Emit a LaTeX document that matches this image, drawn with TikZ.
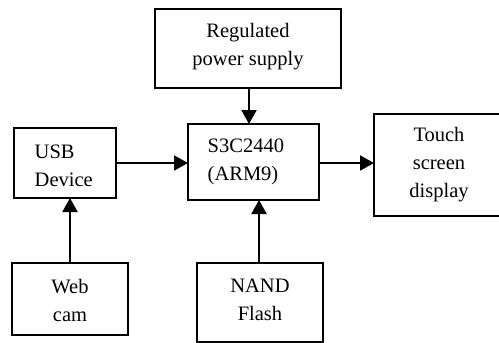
\documentclass[tikz,border=0pt]{standalone}
\usepackage{fontspec}
\setmainfont{Liberation Serif}
\usetikzlibrary{arrows.meta}
\begin{document}
\begin{tikzpicture}[x=1pt,y=-1pt,
  blk/.style={draw=black,line width=1.5pt,inner sep=0pt,outer sep=0pt},
  txt/.style={inner sep=0pt,font=\fontsize{20.5}{28}\selectfont},
  conn/.style={line width=2pt,-{Triangle[length=14pt,width=15pt]}}]
\useasboundingbox (0,0) rectangle (499,343);
% boxes
\node[blk,minimum width=186pt,minimum height=79pt] (reg) at (248,48.5) {};
\node[blk,minimum width=131pt,minimum height=76pt] (cpu) at (253.5,162) {};
\node[blk,minimum width=102pt,minimum height=70pt] (usb) at (65,163) {};
\node[blk,minimum width=127pt,minimum height=102pt] (touch) at (437.5,165) {};
\node[blk,minimum width=116pt,minimum height=72pt] (web) at (70,299) {};
\node[blk,minimum width=126pt,minimum height=79pt] (nand) at (260,302.5) {};
% texts
\node[txt,align=center] (regt) at (248,47) {Regulated\\power supply};
\node[txt,align=left,anchor=west] (cput) at (207.5,161.5) {S3C2440\\(ARM9)};
\node[txt,align=left,anchor=west] (usbt) at (34.5,166) {USB\\Device};
\node[txt,align=center] (toucht) at (439,165) {Touch\\screen\\display};
\node[txt,align=center] (webt) at (70,300) {Web\\cam};
\node[txt,align=center] (nandt) at (260,300) {NAND\\Flash};
% connectors
\draw[conn] (reg.south -| 249,0) -- (cpu.north -| 249,0);
\draw[conn] (usb.east |- 0,163) -- (cpu.west |- 0,163);
\draw[conn] (cpu.east |- 0,163) -- (touch.west |- 0,163);
\draw[conn] (web.north -| 70,0) -- (usb.south -| 70,0);
\draw[conn] (nand.north -| 259,0) -- (cpu.south -| 259,0);
\end{tikzpicture}
\end{document}
